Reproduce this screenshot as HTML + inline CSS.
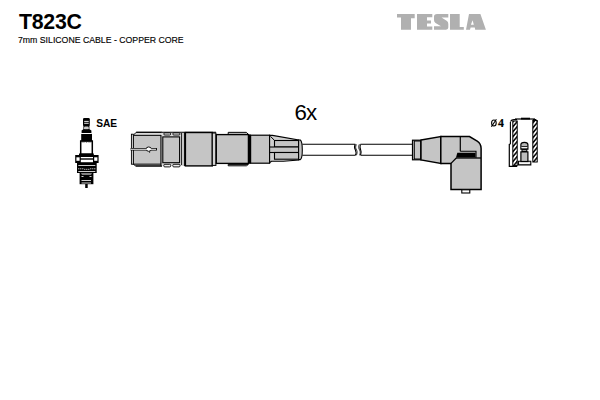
<!DOCTYPE html>
<html><head><meta charset="utf-8">
<style>
html,body{margin:0;padding:0;background:#fff;width:600px;height:400px;overflow:hidden}
.t{position:absolute;font-family:"Liberation Sans",sans-serif;color:#000;white-space:nowrap;line-height:1}
</style></head><body>
<div class="t" id="title" style="left:19.1px;top:12.3px;font-size:21.3px;font-weight:bold;letter-spacing:-0.3px">T823C</div>
<div class="t" id="sub" style="left:18px;top:35px;font-size:9.7px;-webkit-text-stroke:0.15px #000;transform:scaleX(0.9);transform-origin:0 0">7mm SILICONE CABLE - COPPER CORE</div>
<div class="t" id="sae" style="left:96.2px;top:118.6px;font-size:10.2px;font-weight:bold;letter-spacing:-0.1px">SAE</div>
<div class="t" id="six" style="left:294.4px;top:101.7px;font-size:22.3px;letter-spacing:-0.9px">6x</div>
<div class="t" id="d4" style="left:497.9px;top:118.4px;font-size:11.8px;-webkit-text-stroke:0.2px #000;font-weight:bold;font-family:'Liberation Serif',serif">4</div>
<svg width="600" height="400" viewBox="0 0 600 400" style="position:absolute;left:0;top:0">
<defs>
 <pattern id="hatch" patternUnits="userSpaceOnUse" width="3.2" height="3.2" patternTransform="rotate(-50)">
  <rect width="3.2" height="3.2" fill="#fff"/>
  <rect width="3.2" height="1.5" fill="#000"/>
 </pattern>
</defs>

<!-- TESLA logo -->
<g fill="#b0b0b0" fill-rule="evenodd">
 <path d="M397 14 L414.7 14 L414.7 18.2 L411 18.2 L411 29.7 L401 29.7 L401 17.6 L397 17.6 Z"/>
 <path d="M417 14 L432.3 14 L432.3 17.3 L427 17.3 L427 20.6 L431 20.6 L431 23.6 L427 23.6 L427 26.6 L432.3 26.6 L432.3 29.7 L417 29.7 Z"/>
 <path d="M437 14 L448.3 14 L448.3 17.6 L441.5 17.6 L447 21 Q448.3 22 448.3 24 L448.3 27.6 Q448.3 29.7 446 29.7 L434 29.7 L434 26.3 L441 26.3 L435.5 23 Q434 22 434 20 L434 16.5 Q434 14 437 14 Z"/>
 <path d="M450 14 L459.7 14 L459.7 26.9 L463.8 26.9 L463.8 29.7 L450 29.7 Z"/>
 <path d="M469 14 L480.4 14 L485.9 29.7 L475.2 29.7 L474.8 27.4 L470.6 27.4 L470 29.7 L466 29.7 Z M470.9 24.8 L473.8 24.8 L472.6 20.2 Z"/>
</g>

<!-- ø symbol -->
<g stroke="#000" fill="none" stroke-width="1.3">
 <ellipse cx="493.9" cy="123" rx="2.3" ry="3.0" stroke-width="1.1"/>
 <line x1="491.4" y1="126.8" x2="496.4" y2="119.2" stroke-width="1.1"/>
</g>

<!-- SPARK PLUG -->
<g id="plug">
 <rect x="83" y="118" width="6.8" height="8" rx="1.3" fill="#000"/>
 <rect x="84.2" y="120.9" width="4.5" height="0.9" fill="#fff"/>
 <rect x="84.2" y="122.8" width="4.5" height="0.9" fill="#fff"/>
 <rect x="83.4" y="125" width="6" height="5" fill="#000"/>
 <rect x="84" y="126.5" width="4.8" height="3.3" rx="1.2" fill="#c8c8c8"/>
 <path d="M83.4 129.2 L89.4 129.2 L91.4 130.5 L91.4 133 L81.6 133 L81.6 130.5 Z" fill="#000"/>
 <rect x="81.2" y="133.8" width="10.8" height="7.6" fill="#000"/>
 <rect x="81.2" y="133" width="10.4" height="0.9" fill="#fff"/>
 <path d="M80.7 141 L92.3 141 L92.3 154.3 L80.7 154.3 Z" fill="#fff" stroke="#000" stroke-width="1.5"/>
 <path d="M81.5 141.6 L91.5 141.6 L91.5 142.3 L88.5 142.3 L87.5 141.9 L86.5 142.6 L85.5 141.9 L84.5 142.3 L81.5 142.3 Z" fill="#000"/>
 <rect x="79" y="153.5" width="14.8" height="2.2" fill="#000"/>
 <rect x="75.2" y="155" width="23.4" height="8" fill="#000"/>
 <rect x="76.4" y="157.3" width="3.2" height="3.5" fill="#fff"/>
 <rect x="94.2" y="157.3" width="3.2" height="3.5" fill="#fff"/>
 <rect x="80.8" y="157" width="12.2" height="1.3" fill="#fff"/>
 <rect x="80.8" y="159.7" width="12.2" height="2.6" fill="#fff"/>
 <rect x="77" y="162.7" width="19.7" height="10.3" fill="#000"/>
 <rect x="78.3" y="165" width="17" height="0.8" fill="#fff"/>
 <g fill="#fff">
  <rect x="78.3" y="168.3" width="1" height="1"/><rect x="80.3" y="168.3" width="1" height="1"/>
  <rect x="82.3" y="168.3" width="1" height="1"/><rect x="84.3" y="168.8" width="1" height="1"/>
  <rect x="86.3" y="168.8" width="1" height="1"/><rect x="88.3" y="168.8" width="1" height="1"/>
  <rect x="90.3" y="168.3" width="1" height="1"/><rect x="92.3" y="168.3" width="1" height="1"/>
  <rect x="94.3" y="168.3" width="1" height="1"/>
 </g>
 <rect x="78.3" y="171" width="17" height="0.8" fill="#fff"/>
 <rect x="79.6" y="172.8" width="13.8" height="11.4" fill="#000"/>
 <path d="M81 173.6 L92 173.6 L91 174.4 L82 174.4 Z" fill="#fff"/>
 <rect x="81.5" y="176" width="2" height="0.8" fill="#fff"/><rect x="89.5" y="176" width="2" height="0.8" fill="#fff"/>
 <rect x="81.5" y="180" width="9.5" height="0.8" fill="#fff"/>
 <rect x="81.5" y="182.6" width="9.5" height="0.8" fill="#fff"/>
 <rect x="85.2" y="184" width="2.5" height="4" fill="#000"/>
</g>

<!-- LEFT BOOT -->
<g id="lboot" stroke="#000" fill="#c5c5c5">
 <!-- section 1 -->
 <path d="M133.3 135.2 L136.2 132.3 L162 132.3 L162 166 L135.8 166 L133.3 164.2 Z" fill="#dadada" stroke-width="1"/>
 <rect x="133.3" y="135.35" width="28" height="28.8" stroke-width="1"/>
 <rect x="131.4" y="134.2" width="1.9" height="30" fill="#e8e8e8" stroke-width="0.9"/>
 <path d="M130.6 149.3 L146.5 149.3 M150.5 149.3 L155.6 149.3 L156.9 149.3" stroke="#000" stroke-width="2.6" fill="none"/>
 <ellipse cx="148.7" cy="149.1" rx="2.6" ry="2.1" fill="#fff" stroke-width="1"/>
 <line x1="149.6" y1="151.3" x2="149.6" y2="152.8" stroke-width="0.8"/>
 <path d="M130.6 149.3 L147 149.3 M150 149.3 L156 149.3" stroke="#fff" stroke-width="1.1" fill="none"/>
 <ellipse cx="148.7" cy="149.1" rx="1.8" ry="1.4" fill="#fff" stroke="none"/>
 <!-- section 2 -->
 <path d="M161 132.3 L185 132.3 L185 166 L161 166 Z" fill="#dadada" stroke="none"/>
 <line x1="161" y1="135" x2="161" y2="166" stroke-width="1"/>
 <rect x="162.8" y="136.9" width="16.8" height="25.8" stroke-width="1.1"/>
 <rect x="163.8" y="132.9" width="6.9" height="2.1" rx="1" fill="#eee" stroke-width="0.9"/>
 <rect x="172.8" y="132.9" width="7.2" height="2.1" rx="1" fill="#eee" stroke-width="0.9"/>
 <rect x="163.8" y="164.3" width="6.9" height="2.6" rx="1" fill="#eee" stroke-width="0.9"/>
 <rect x="172.8" y="164.3" width="7.2" height="2.6" rx="1" fill="#eee" stroke-width="0.9"/>
 <line x1="181.6" y1="133" x2="181.6" y2="165" stroke-width="0.9"/>
 <line x1="184.4" y1="132.3" x2="184.4" y2="166" stroke-width="1"/>
 <line x1="136.2" y1="132.3" x2="216" y2="132.3" stroke-width="1.1"/>
 <line x1="135.8" y1="166" x2="162" y2="166" stroke-width="1"/>
 <!-- section 3 -->
 <rect x="185.4" y="132.5" width="26.9" height="33.4" stroke-width="1.4"/>
 <rect x="212.3" y="133" width="3.6" height="32.4" fill="#d4d4d4" stroke-width="1"/>
 <!-- section 4 -->
 <path d="M228.2 134.4 L228.2 132.35 L246.4 132.35 L248.4 134.4 Z" fill="#dadada" stroke-width="1"/>
 <path d="M228.2 164.4 L228.2 165.8 L246.4 165.8 L248.4 164.4 Z" fill="#dadada" stroke-width="1"/>
 <rect x="216.3" y="134.6" width="32.2" height="28.8" stroke-width="1.35"/>
 <rect x="247.9" y="134.4" width="2.7" height="29.4" fill="#000" stroke="none"/>
 <!-- section 5 -->
 <rect x="250.6" y="135.2" width="19" height="28" stroke-width="1.2"/>
 <!-- nose -->
 <path d="M269.6 135.4 L272.5 135.4 L298.6 139.9 L298.6 160 L283.5 161.2 L271.5 161.2 L269.6 162.6 Z" fill="#d0d0d0" stroke-width="1.1"/>
 <line x1="270.4" y1="136.3" x2="274.5" y2="140.4" stroke-width="1"/>
 <rect x="274.5" y="140.5" width="24.1" height="6.5" stroke-width="1.1"/>
 <rect x="269.6" y="147" width="29" height="5.5" stroke-width="1.1"/>
 <rect x="274.5" y="152.5" width="24.1" height="6.7" stroke-width="1.1"/>
 <path d="M298.6 140 L300.3 140 Q302.3 141.5 302.3 150 Q302.3 158.5 300.3 159.6 L298.6 159.6 Z" stroke-width="1.1"/>
</g>

<!-- CABLE -->
<g stroke="#000" stroke-width="1.1" fill="none">
 <line x1="302.3" y1="144.3" x2="355.4" y2="144.3"/>
 <line x1="302.3" y1="155.3" x2="355.4" y2="155.3"/>
 <path d="M355.2 144.3 C354 147 354.4 148.5 355.4 150 C356.2 151.5 356.4 153 355.4 155.3"/>
 <path d="M356.3 144.3 C355.3 147 355.6 148.5 356.6 150 C357.3 151.5 357.4 153 356.4 155.3" stroke-width="0.8"/>
 <path d="M359.3 144.3 C358.2 147 358.6 148.5 359.6 150 C360.4 151.5 360.4 153 359.6 155.3" stroke-width="0.8"/>
 <path d="M360.4 144.3 C359.6 147 359.8 148.5 360.7 150 C361.4 151.5 361.4 153 360.6 155.3"/>
 <line x1="360.4" y1="144.3" x2="412" y2="144.3"/>
 <line x1="360.6" y1="155.3" x2="412" y2="155.3"/>
</g>

<!-- RIGHT BOOT -->
<g id="rboot" stroke="#000" fill="#c5c5c5">
 <rect x="412.5" y="140.2" width="8.5" height="19.6" stroke-width="1.2"/>
 <rect x="414.3" y="141" width="6.4" height="18" stroke-width="1"/>
 <path d="M421 140 L440.8 136.6 L440.8 163.4 L421 160 Z" stroke-width="1.4"/>
 <path d="M440.8 136.5 L469.5 136.5 L477.2 141.2 Q481.1 143.8 481.1 148.5 L481.1 189.5 L451 189.5 L451 163.4 L440.8 163.4 Z" stroke-width="1.5"/>
 <line x1="460.3" y1="136.6" x2="460.3" y2="151.3" stroke-width="1.2"/>
 <path d="M460.3 151.3 L476 151.3 L476 157.8" fill="none" stroke-width="1.1"/>
 <path d="M457.3 152.8 L475.5 152.8 L475.5 157.5 L456 157.5 Z" fill="#000" stroke="none"/>
 <line x1="456" y1="158" x2="481" y2="158" stroke-width="1.3"/>
 <line x1="456.3" y1="158" x2="451" y2="163.4" stroke-width="1.2"/>
 <rect x="461.8" y="189.8" width="8" height="3.2" fill="#fff" stroke-width="1.1"/>
</g>

<!-- TERMINAL ø4 -->
<g id="term">
 <path d="M515 119 L535 119" stroke="#000" stroke-width="1.2"/>
 <path d="M521 118.6 L530 118.6" stroke="#000" stroke-width="1.8"/>
 <path d="M510.4 144 L510.4 124 Q510.4 120.5 514 120 L517 120 L517 165.5 L512.8 165.5 L512.8 144 Z" fill="none"/>
 <rect x="512.8" y="121" width="4.4" height="44.6" fill="url(#hatch)" stroke="#000" stroke-width="1"/>
 <rect x="532.8" y="120.5" width="4.4" height="41.5" fill="url(#hatch)" stroke="#000" stroke-width="1"/>
 <path d="M510.4 121.5 Q511.5 119.6 514 119.6 L517 119.6 M532.8 119.6 L535.5 119.6 Q537.2 120.5 537.2 122" fill="none" stroke="#000" stroke-width="1.1"/>
 <line x1="510.4" y1="122" x2="510.4" y2="144" stroke="#000" stroke-width="1.1"/>
 <path d="M510.4 144 L509.3 144.5 L509.3 166.4 L517.2 166.4" fill="none" stroke="#000" stroke-width="1.2"/>
 <path d="M518.4 161.3 L530.8 161.3 L530.8 164.9 L518.4 164.9 Z" fill="#e4e4e4" stroke="#000" stroke-width="1.1"/>
 <rect x="519.8" y="162.8" width="9.5" height="0.9" fill="#fff"/>
 <rect x="520.9" y="151.9" width="7" height="9.6" fill="#bdbdbd" stroke="#000" stroke-width="1.2"/>
 <rect x="521.5" y="148.8" width="5.8" height="3.2" fill="#000"/>
 <rect x="522.5" y="150.2" width="3.8" height="0.7" fill="#ddd"/>
 <path d="M520.9 149.2 L520.9 144.6 Q520.9 142.3 524.4 142.3 Q527.9 142.3 527.9 144.6 L527.9 149.2 Z" fill="#b5b5b5" stroke="#000" stroke-width="1.2"/>
 <rect x="521.5" y="146.2" width="5.8" height="0.8" fill="#000"/>
 <rect x="521.5" y="147.2" width="5.8" height="0.8" fill="#fff"/>
</g>
</svg>
</body></html>
